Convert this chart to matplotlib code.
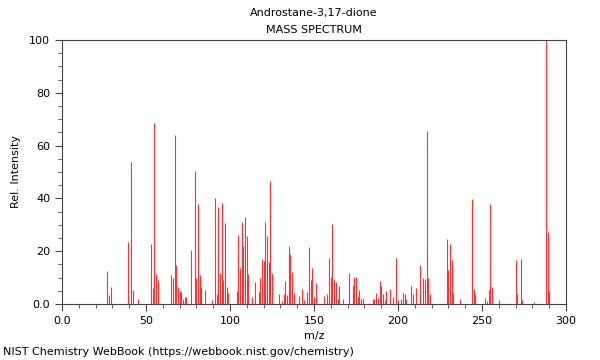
"""Androstane-3,17-dione — EI mass spectrum (NIST WebBook style stick plot)."""

import matplotlib

matplotlib.use("Agg")
import matplotlib.pyplot as plt
from matplotlib.ticker import MultipleLocator

# m/z and relative intensity
MZ = [
    27, 28, 29, 39, 41, 42, 45, 53, 54, 55, 56, 57, 65, 66, 67, 68, 69, 70, 71,
    72, 73, 74, 77, 79, 80, 81, 82, 83, 85, 89, 91, 92, 93, 94, 95, 96, 97, 98,
    99, 104, 105, 106, 107, 108, 109, 110, 111, 113, 115, 117, 118, 119, 120,
    121, 122, 123, 124, 125, 129, 131, 132, 133, 134, 135, 136, 137, 138, 141,
    143, 144, 146, 147, 148, 149, 150, 151, 156, 158, 159, 160, 161, 162, 163,
    164, 165, 167, 171, 173, 174, 175, 176, 177, 178, 179, 185, 186, 187, 188,
    189, 190, 191, 192, 193, 195, 197, 199, 200, 202, 203, 204, 205, 208, 209,
    211, 213, 215, 216, 217, 218, 219, 229, 230, 231, 232, 233, 237, 244, 245,
    246, 252, 253, 254, 255, 256, 260, 270, 271, 273, 274, 281, 288, 289, 290,
]
INTENSITY = [
    12.6, 3.4, 6.3, 23.6, 53.9, 5.3, 1.8, 22.6, 6.2, 68.4, 11.4, 9.1, 10.9, 9.7,
    63.9, 14.8, 6.4, 4.9, 4.4, 1.8, 2.8, 2.8, 20.5, 50.4, 9.7, 37.8, 11.0, 6.3,
    5.3, 1.5, 40.3, 3.8, 36.7, 11.9, 38.3, 9.1, 30.8, 6.4, 4.3, 4.9, 26.3, 13.8,
    30.9, 22.0, 32.8, 25.9, 11.2, 2.8, 8.3, 4.7, 9.7, 17.0, 16.3, 30.9, 25.9,
    15.9, 46.6, 11.6, 3.8, 1.3, 3.7, 8.6, 3.4, 22.0, 18.9, 12.2, 4.0, 3.2, 5.8,
    1.5, 4.4, 21.7, 9.1, 13.5, 2.8, 7.8, 3.2, 3.7, 17.3, 10.1, 30.3, 9.1, 8.2,
    1.8, 6.8, 1.8, 11.6, 7.2, 10.4, 10.1, 2.8, 5.3, 1.8, 2.4, 2.0, 2.0, 4.0,
    2.4, 8.7, 6.8, 3.8, 1.5, 5.0, 5.8, 2.8, 17.4, 1.5, 2.0, 4.2, 3.8, 2.0, 7.0,
    3.8, 6.1, 14.8, 10.0, 9.3, 65.7, 10.0, 3.8, 24.5, 12.9, 22.6, 16.7, 4.0,
    1.9, 39.8, 5.5, 3.4, 2.4, 1.3, 5.3, 38.0, 6.4, 1.4, 16.7, 3.7, 16.9, 1.5,
    0.6, 100.0, 27.4, 4.8,
]

TITLE = "Androstane-3,17-dione"
SUBTITLE = "MASS SPECTRUM"
FOOTER = "NIST Chemistry WebBook (https://webbook.nist.gov/chemistry)"


def _fmt(v, _pos):
    # NIST plots label the origin as "0.0" and the rest as integers
    return "0.0" if v == 0 else f"{v:.0f}"


fig = plt.figure(figsize=(6.0, 3.6), dpi=100)
ax = fig.add_axes([62 / 600, 1 - 304 / 360, 504 / 600, 264 / 360])

ax.vlines(MZ, 0, INTENSITY, color="#ff3030", linewidth=0.8)

ax.set_xlim(0, 300)
ax.set_ylim(0, 100)
ax.xaxis.set_major_locator(MultipleLocator(50))
ax.xaxis.set_minor_locator(MultipleLocator(10))
ax.xaxis.set_major_formatter(plt.FuncFormatter(_fmt))
ax.yaxis.set_major_locator(MultipleLocator(20))
ax.yaxis.set_minor_locator(MultipleLocator(5))
ax.yaxis.set_major_formatter(plt.FuncFormatter(_fmt))
ax.tick_params(which="both", direction="out", labelsize=8, color="#444444")
ax.tick_params(which="major", length=5, width=0.8)
ax.tick_params(which="minor", length=3, width=0.6)
for spine in ax.spines.values():
    spine.set_color("#444444")
    spine.set_linewidth(0.8)

ax.set_xlabel("m/z", fontsize=8, labelpad=4)
ax.set_ylabel("Rel. Intensity", fontsize=8, labelpad=6)

fig.text(0.523, 1 - 13 / 360, TITLE, ha="center", va="center", fontsize=8)
fig.text(0.523, 1 - 30 / 360, SUBTITLE, ha="center", va="center", fontsize=8)
fig.text(3 / 600, 1 - 352 / 360, FOOTER, ha="left", va="center", fontsize=8)

fig.savefig("out.png", dpi=100)
